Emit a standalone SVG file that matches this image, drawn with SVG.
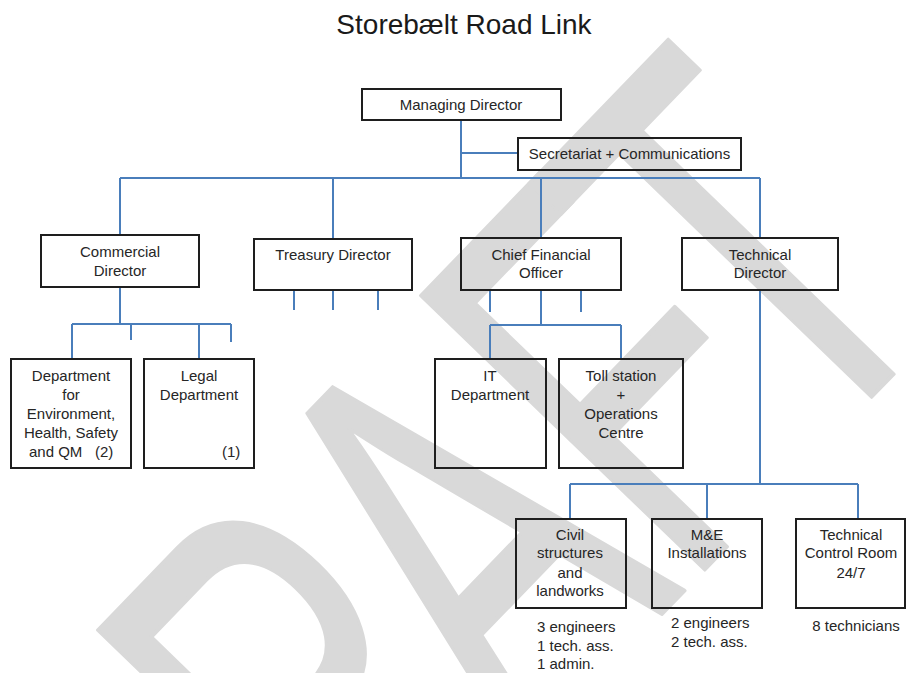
<svg xmlns="http://www.w3.org/2000/svg" width="906" height="673" viewBox="0 0 906 673">
<style>
.box{fill:none;stroke:#1e1e1e;stroke-width:2}
.t{font-family:"Liberation Sans",Arial,sans-serif;font-size:15px;fill:#262626;text-anchor:middle}
.ts{font-family:"Liberation Sans",Arial,sans-serif;font-size:15px;fill:#262626}
.c{fill:none;stroke:#4a7ebb;stroke-width:2}
.wm{font-family:"Liberation Sans",Arial,sans-serif;font-size:573px;fill:#d9d9d9;stroke:#d9d9d9;stroke-width:4;stroke-linejoin:round}
</style>
<rect width="906" height="673" fill="#ffffff"/>
<g id="watermark">
<text class="wm" transform="translate(880,388) rotate(-46) scale(0.62,1)" x="-1618 -1205 -834 -455 -169" y="0">DRAFT</text>
</g>
<g id="title">
<text x="464" y="34" style="font-family:'Liberation Sans',Arial,sans-serif;font-size:28px;fill:#1a1a1a;text-anchor:middle">Storebælt Road Link</text>
</g>
<g id="connectors">
<path class="c" d="M461 120V178M461 153H518M120 178H760M120 178V235M333 178V239M541 178V238M760 178V238"/>
<path class="c" d="M120 287V324M72 324H231M72 324V359M131 324V340M199 324V359M231 324V342M144 440V468"/>
<path class="c" d="M294 290V310M333 290V310M378 290V310"/>
<path class="c" d="M490 290V312M581 290V312M541 290V325M490 325H621M490 325V359M621 325V359"/>
<path class="c" d="M760 290V484M570 484H858M570 484V519M707 484V519M858 484V519"/>
</g>
<g id="managing-director">
<rect class="box" x="362" y="89" width="199" height="31"/>
<text class="t" x="461" y="110">Managing Director</text>
</g>
<g id="secretariat">
<rect class="box" x="518" y="138" width="223" height="32"/>
<text class="t" x="629.5" y="159">Secretariat + Communications</text>
</g>
<g id="commercial-director">
<rect class="box" x="41" y="235" width="158" height="52"/>
<text class="t" x="120" y="257">Commercial</text>
<text class="t" x="120" y="276">Director</text>
</g>
<g id="treasury-director">
<rect class="box" x="254" y="239" width="158" height="51"/>
<text class="t" x="333" y="260">Treasury Director</text>
</g>
<g id="cfo">
<rect class="box" x="461" y="238" width="160" height="52"/>
<text class="t" x="541" y="260">Chief Financial</text>
<text class="t" x="541" y="278">Officer</text>
</g>
<g id="technical-director">
<rect class="box" x="682" y="238" width="156" height="52"/>
<text class="t" x="760" y="260">Technical</text>
<text class="t" x="760" y="278">Director</text>
</g>
<g id="dept-ehs">
<rect class="box" x="11" y="359" width="120" height="109"/>
<text class="t" x="71" y="381">Department</text>
<text class="t" x="71" y="400">for</text>
<text class="t" x="71" y="419">Environment,</text>
<text class="t" x="71" y="438">Health, Safety</text>
<text class="ts" y="457"><tspan x="29">and QM</tspan><tspan x="95">(2)</tspan></text>
</g>
<g id="legal-dept">
<rect class="box" x="144" y="359" width="110" height="109"/>
<text class="t" x="199" y="381">Legal</text>
<text class="t" x="199" y="400">Department</text>
<text class="ts" x="222" y="457">(1)</text>
</g>
<g id="it-dept">
<rect class="box" x="435" y="359" width="111" height="109"/>
<text class="t" x="490" y="381">IT</text>
<text class="t" x="490" y="400">Department</text>
</g>
<g id="toll-station">
<rect class="box" x="559" y="359" width="124" height="109"/>
<text class="t" x="621" y="381">Toll station</text>
<text class="t" x="621" y="400">+</text>
<text class="t" x="621" y="419">Operations</text>
<text class="t" x="621" y="438">Centre</text>
</g>
<g id="civil">
<rect class="box" x="516" y="519" width="110" height="89"/>
<text class="t" x="570" y="540">Civil</text>
<text class="t" x="570" y="558">structures</text>
<text class="t" x="570" y="578">and</text>
<text class="t" x="570" y="596">landworks</text>
<text class="ts" x="537" y="632">3 engineers</text>
<text class="ts" x="537" y="651">1 tech. ass.</text>
<text class="ts" x="537" y="669">1 admin.</text>
</g>
<g id="me-installations">
<rect class="box" x="652" y="519" width="110" height="89"/>
<text class="t" x="707" y="540">M&amp;E</text>
<text class="t" x="707" y="558">Installations</text>
<text class="ts" x="671" y="628">2 engineers</text>
<text class="ts" x="671" y="647">2 tech. ass.</text>
</g>
<g id="technical-control-room">
<rect class="box" x="796" y="519" width="109" height="89"/>
<text class="t" x="851" y="540">Technical</text>
<text class="t" x="851" y="558">Control Room</text>
<text class="t" x="851" y="578">24/7</text>
<text class="t" x="856" y="631">8 technicians</text>
</g>
</svg>
